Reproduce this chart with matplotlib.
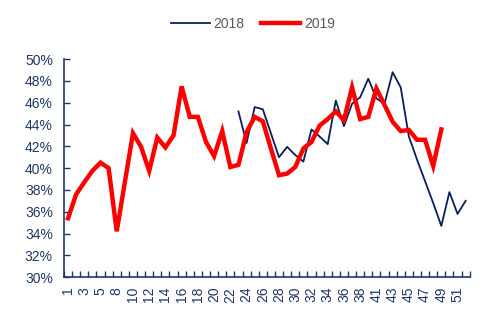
import numpy as np
import matplotlib.pyplot as plt

plt.rcParams['font.family'] = ['Liberation Sans', 'DejaVu Sans']

# week numbers on the category axis (weeks 6 and 39 are not reported)
weeks = list(range(1, 6)) + list(range(7, 39)) + list(range(40, 53))

# share in percent; None where there is no reading
rate_2018 = [None] * 21 + [
    45.2, 42.3, 45.6, 45.4, 43.2, 41.0, 41.95, 41.2, 40.6, 43.55,
    42.9, 42.2, 46.2, 43.85, 45.9, 46.5, 48.2, 46.4, 45.9, 48.8,
    47.4, 42.9, 40.8, 38.8, 36.8, 34.7, 37.8, 35.8, 37.0]
rate_2019 = [
    35.4, 37.6, 38.7, 39.75, 40.5, 40.0, 34.2, 38.7, 43.2, 41.95,
    39.75, 42.8, 41.9, 43.0, 47.5, 44.7, 44.7, 42.4, 41.1, 43.4,
    40.1, 40.3, 43.3, 44.7, 44.3, 41.8, 39.35, 39.5, 40.1, 41.8,
    42.4, 43.9, 44.5, 45.2, 44.4, 47.4, 44.5, 44.7, 47.3, 45.8,
    44.25, 43.4, 43.5, 42.6, 42.6, 40.2, 43.55] + [None] * 3

navy = '#1F3864'
x = np.arange(len(weeks))
y18 = np.array([np.nan if v is None else v for v in rate_2018])
y19 = np.array([np.nan if v is None else v for v in rate_2019])

fig = plt.figure(figsize=(4.96, 3.23), dpi=100)
ax = fig.add_axes([0.129, 0.142, 0.818, 0.675])

ax.plot(x, y18, color='#0B1F5C', lw=1.3, label='2018')
ax.plot(x, y19, color='#FF0000', lw=3.2, label='2019', solid_joinstyle='miter')

ax.set_xlim(-0.5, len(weeks) - 0.5)
ax.set_ylim(30, 50)
ax.set_yticks(np.arange(30, 51, 2))
ax.set_yticklabels([f'{v}%' for v in range(30, 51, 2)])

ax.set_xticks(x[::2])
ax.set_xticklabels([str(w) for w in weeks[::2]], rotation=90)
ax.set_xticks(np.arange(-0.5, len(weeks), 1), minor=True)
ax.tick_params(axis='x', which='major', length=0, pad=7)
ax.tick_params(axis='x', which='minor', direction='in', length=4, width=1, color=navy)
ax.tick_params(axis='y', direction='in', length=4, width=1, color=navy, pad=8)
ax.tick_params(labelsize=10, labelcolor=navy)

for side in ['top', 'right']:
    ax.spines[side].set_visible(False)
for side in ['left', 'bottom']:
    ax.spines[side].set_color(navy)
    ax.spines[side].set_linewidth(1.2)

fig.legend(loc='upper center', bbox_to_anchor=(0.51, 0.985), ncol=2, frameon=False,
           fontsize=10, labelcolor='#595959', handlelength=2.8, columnspacing=1.2,
           handletextpad=0.3)

fig.savefig('out.png', dpi=100)
